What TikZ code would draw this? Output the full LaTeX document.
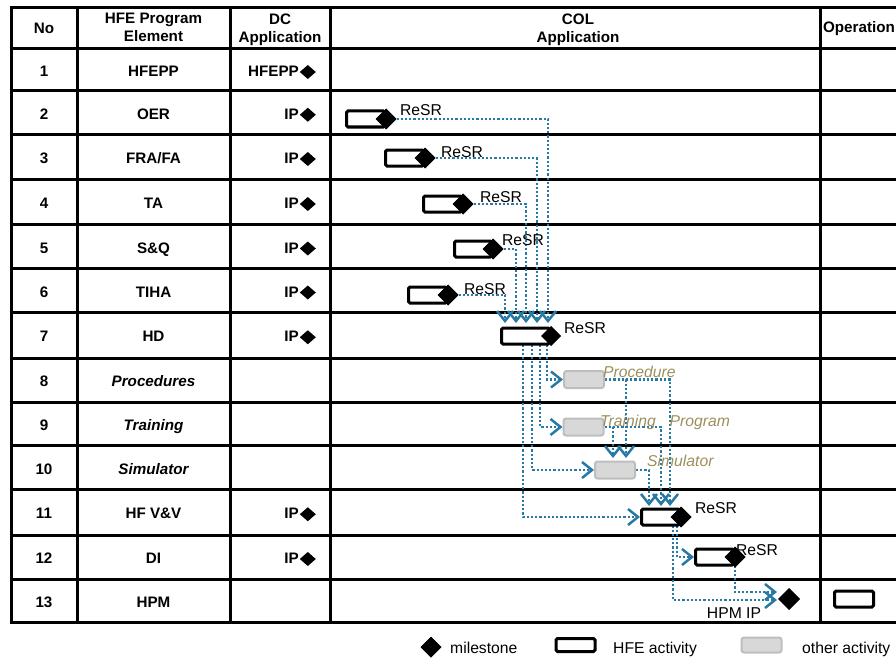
\documentclass[tikz,border=0pt]{standalone}
\usepackage{fontspec}
\setmainfont{Liberation Sans}
\usetikzlibrary{shapes.geometric,arrows.meta,backgrounds}
\definecolor{flowc}{RGB}{40,122,165}
\definecolor{lbltxt}{RGB}{156,143,92}
\definecolor{gfill}{RGB}{216,216,216}
\definecolor{gline}{RGB}{190,190,190}
\newcommand{\dmd}{\hspace{1pt}\tikz[baseline=0pt]\fill[black] (0pt,4.5pt)--(8pt,11.5pt)--(16pt,4.5pt)--(8pt,-2.5pt)--cycle;}
\tikzset{
 tbl/.style={line width=3pt, black},
 hfebox/.style={draw=black, line width=3pt, fill=white, rounded corners=1.5pt, minimum height=16pt, inner sep=0pt},
 othbox/.style={draw=gline, fill=gfill, line width=2pt, rounded corners=2.5pt, minimum height=17pt, minimum width=40pt, inner sep=0pt},
 ms/.style={diamond, fill=black, draw=black, line width=1pt, inner sep=0pt, minimum width=20pt, minimum height=20pt},
 flow/.style={draw=flowc, line width=2.2pt, dash pattern=on 2.2pt off 2pt, -{Straight Barb[length=10pt,width=16pt,line width=2.5pt]}},
 hd/.style={font=\fontsize{15.2}{18}\selectfont\bfseries, align=center, inner sep=0pt},
 cell/.style={font=\fontsize{15.2}{18}\selectfont\bfseries, inner sep=0pt, anchor=base},
 celli/.style={font=\fontsize{15.2}{18}\selectfont\bfseries\itshape, inner sep=0pt, anchor=base},
 lbl/.style={font=\fontsize{15.7}{18}\selectfont, inner sep=0pt},
 olbl/.style={font=\fontsize{15.7}{18}\selectfont\itshape, text=lbltxt, inner sep=0pt, anchor=west},
}
\begin{document}
\begin{tikzpicture}[x=1pt,y=-1pt]
\useasboundingbox (0,0) rectangle (896,658);

% ---- headers
\node[hd, anchor=base] (hno) at (44,33.3) {No};
\node[hd, anchor=north] (hel) at (153.5,13.3) {HFE Program\\Element};
\node[hd, anchor=north] (hdc) at (280,13.3) {DC\\Application};
\node[hd, anchor=north] (hcol) at (578,13.3) {COL\\Application};
\node[hd, anchor=base] (hop) at (859,33) {Operation};

% ---- row numbers
\foreach \n/\yc in {1/70,2/112.75,3/157,4/202,5/246.5,6/290.5,7/335.25,8/380,9/423.75,10/467.5,11/512.25,12/557,13/600.75}
  \node[cell] (no\n) at (44,\yc+6.5) {\n};

% ---- elements
\node[cell] (el1) at (153.5,76.5) {HFEPP};
\node[cell] (el2) at (153.5,119.25) {OER};
\node[cell] (el3) at (153.5,163.5) {FRA/FA};
\node[cell] (el4) at (153.5,208.5) {TA};
\node[cell] (el5) at (153.5,253) {S\&Q};
\node[cell] (el6) at (153.5,297) {TIHA};
\node[cell] (el7) at (153.5,341.75) {HD};
\node[celli] (el8) at (153.5,386.5) {Procedures};
\node[celli] (el9) at (153.5,430.25) {Training};
\node[celli] (el10) at (153.5,474) {Simulator};
\node[cell] (el11) at (153.5,518.75) {HF V\&V};
\node[cell] (el12) at (153.5,563.5) {DI};
\node[cell] (el13) at (153.5,607.25) {HPM};

% ---- DC application
\node[cell, anchor=base east] (dc1) at (316,76.5) {HFEPP\dmd};
\node[cell, anchor=base east] (dc2) at (316,119.25) {IP\dmd};
\node[cell, anchor=base east] (dc3) at (316,163.5) {IP\dmd};
\node[cell, anchor=base east] (dc4) at (316,208.5) {IP\dmd};
\node[cell, anchor=base east] (dc5) at (316,253) {IP\dmd};
\node[cell, anchor=base east] (dc6) at (316,297) {IP\dmd};
\node[cell, anchor=base east] (dc7) at (316,341.75) {IP\dmd};
\node[cell, anchor=base east] (dc11) at (316,518.75) {IP\dmd};
\node[cell, anchor=base east] (dc12) at (316,563.5) {IP\dmd};

% ---- HFE activity bars
\node[hfebox, minimum width=38pt, anchor=east] (b2) at (386,119) {};
\node[ms] (d2) at (386,119) {};
\node[hfebox, minimum width=38pt, anchor=east] (b3) at (425,158) {};
\node[ms] (d3) at (425,158) {};
\node[hfebox, minimum width=38pt, anchor=east] (b4) at (463,204) {};
\node[ms] (d4) at (463,204) {};
\node[hfebox, minimum width=37pt, anchor=east] (b5) at (493,249) {};
\node[ms] (d5) at (493,249) {};
\node[hfebox, minimum width=38pt, anchor=east] (b6) at (448,295) {};
\node[ms] (d6) at (448,295) {};
\node[hfebox, minimum width=48pt, anchor=east] (b7) at (551,336) {};
\node[ms, minimum width=19pt, minimum height=19pt] (d7) at (551,336) {};
\node[hfebox, minimum width=38pt, anchor=east] (b11) at (681,517) {};
\node[ms] (d11) at (681,517) {};
\node[lbl] (r12) at (757,550) {ReSR};
\node[hfebox, minimum width=38pt, anchor=east] (b12) at (735,557) {};
\node[ms] (d12) at (735,557) {};
\node[ms, minimum width=21pt, minimum height=21pt] (d13) at (789,599) {};
\node[hfebox, minimum width=39pt] (op) at (854,599) {};

% ---- other activities
\node[othbox] (proc) at (584,379.5) {};
\node[othbox] (train) at (583.5,427) {};
\node[othbox] (sim) at (615,470) {};

% ---- labels
\node[lbl] (r2) at (421,110) {ReSR};
\node[lbl] (r3) at (462,152) {ReSR};
\node[lbl] (r4) at (501,197) {ReSR};
\node[lbl] (r5) at (523,240) {ReSR};
\node[lbl] (r6) at (485,289) {ReSR};
\node[lbl] (r7) at (585,328) {ReSR};
\node[lbl] (r11) at (716,508) {ReSR};
\node[lbl] (hpmip) at (734,613) {HPM IP};
\node[olbl] (lproc) at (603,372) {Procedure};
\node[olbl] (ltrain) at (600,422) {Training\hspace{14pt}Program};
\node[olbl] (lsim) at (647,461) {Simulator};

% ---- legend
\node[ms] (lgm) at (431,647) {};
\node[lbl, anchor=base west] (lgmt) at (450,653) {milestone};
\node[hfebox, minimum width=39pt, minimum height=13pt] (lgh) at (575.5,645) {};
\node[lbl, anchor=base west] (lght) at (613,653) {HFE activity};
\node[othbox, minimum width=40pt, minimum height=15pt] (lgo) at (761.5,645) {};
\node[lbl, anchor=base west] (lgot) at (802,653) {other activity};

% ---- coordinates for connector ends
\coordinate (t7a) at (505,323);
\coordinate (t7b) at (516,323);
\coordinate (t7c) at (526,323);
\coordinate (t7d) at (537,323);
\coordinate (t7e) at (548,323);
\coordinate (h7a) at (523,336);
\coordinate (h7b) at (532,336);
\coordinate (h7c) at (540,336);
\coordinate (h7d) at (547,336);
\coordinate (t10a) at (613,458);
\coordinate (t10b) at (626,458);
\coordinate (t11a) at (649,506);
\coordinate (t11b) at (661,506);
\coordinate (t11c) at (670,506);
\coordinate (h11a) at (673,517);
\coordinate (h11b) at (677,517);
\coordinate (t13a) at (777,592);
\coordinate (t13b) at (777,600);

\begin{scope}[on background layer]
  \foreach \y in {8,49,91,134.5,179.5,224.5,268.5,312.5,358,402,445.5,489.5,535,579,622.5}
    \draw[tbl] (9.5,\y) -- (896,\y);
  \foreach \x in {11,77,230,330,820}
    \draw[tbl] (\x,6.5) -- (\x,624);
  \draw[flow] (d2.east) -| (t7e);
  \draw[flow] (d3.east) -| (t7d);
  \draw[flow] (d4.east) -| (t7c);
  \draw[flow] (d5.east) -| (t7b);
  \draw[flow] (d6.east) -| (t7a);
  \draw[flow] (h7d) |- (proc.west);
  \draw[flow] (h7c) |- (train.west);
  \draw[flow] (h7b) |- (sim.west);
  \draw[flow] (h7a) |- (b11.west);
  \draw[flow] (proc.east) -| (t10b);
  \draw[flow] (proc.east) -| (t11c);
  \draw[flow] (train.east) -| (t10a);
  \draw[flow] (train.east) -| (t11b);
  \draw[flow] (sim.east) -| (t11a);
  \draw[flow] (h11b) |- (b12.west);
  \draw[flow] (h11a) |- (t13b);
  \draw[flow] (d12.center) |- (t13a);
\end{scope}
\end{tikzpicture}
\end{document}
